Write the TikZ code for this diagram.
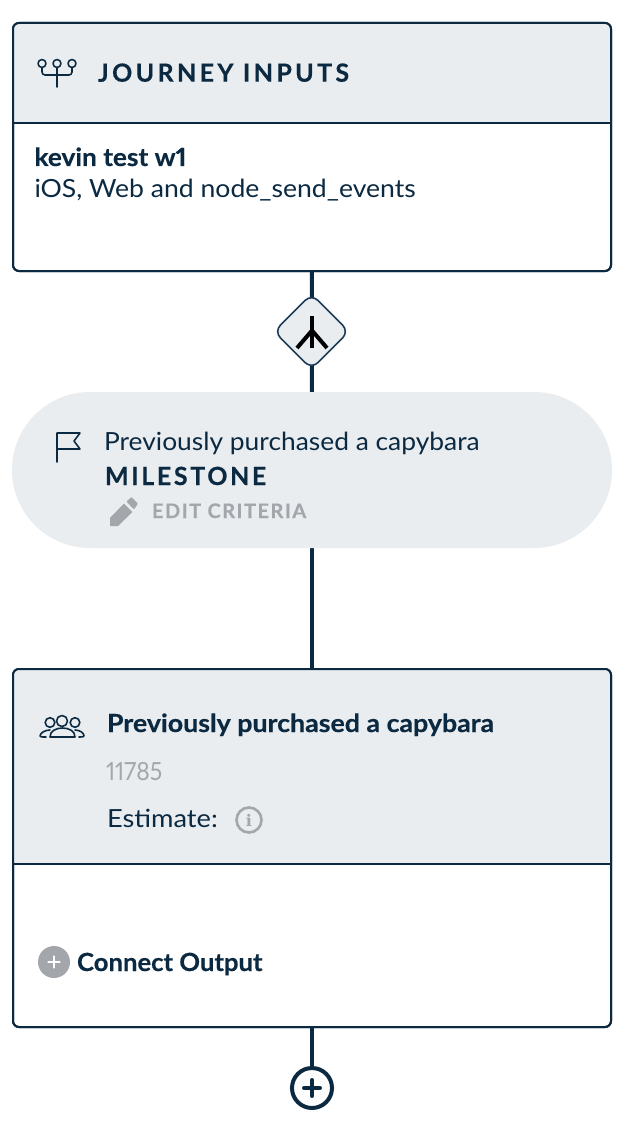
\documentclass[tikz,border=0pt]{standalone}
\usepackage{fontspec}
\setmainfont{Lato}[Numbers=Proportional]
\newfontfamily\infofont{DejaVu Serif}
\usetikzlibrary{shapes.geometric,backgrounds}
\definecolor{navy}{HTML}{0B2A42}
\definecolor{panel}{HTML}{EAEDF0}
\definecolor{mute}{HTML}{A3A7AB}
\definecolor{dline}{HTML}{1D3C5A}
\newcommand{\fs}[2]{\fontsize{#1}{#1}\addfontfeature{FakeStretch=#2}\selectfont}
\newcommand{\hv}{\bfseries\addfontfeature{FakeBold=0.4}}
\tikzset{
  x=1pt,y=-1pt,
  card/.style={draw=navy,line width=2pt,rounded corners=6pt,minimum width=598pt,inner sep=0pt,outer sep=0pt},
  txt/.style={anchor=base west,inner sep=0pt,outer sep=0pt,text=navy},
  conn/.style={draw=navy,line width=4pt},
  ico/.style={draw=navy,line width=1.6pt,line cap=round,line join=round},
}
\begin{document}
\begin{tikzpicture}
\useasboundingbox (0,0) rectangle (632,1142);

% shapes
\node[card,minimum height=248pt] (inputs) at (312,147) {};
\fill[panel,rounded corners=6pt] (13,23) -- (611,23) -- (611,123) -- (13,123) -- cycle;
\node[card,minimum height=248pt] at (312,147) {};
\coordinate (inL) at (13,123); \coordinate (inR) at (611,123);
\draw[navy,line width=2pt] (inL) -- (inR);

\node[fill=panel,rounded corners=78pt,minimum width=600pt,minimum height=156pt,inner sep=0pt,outer sep=0pt] (mile) at (312,470) {};

\node[card,minimum height=358pt] (seg) at (312,848) {};
\fill[panel,rounded corners=6pt] (13,669) -- (611,669) -- (611,864) -- (13,864) -- cycle;
\node[card,minimum height=358pt] at (312,848) {};
\coordinate (sgL) at (13,864); \coordinate (sgR) at (611,864);
\draw[navy,line width=2pt] (sgL) -- (sgR);

\node[draw=dline,line width=1.6pt,fill=panel,diamond,aspect=1,minimum size=75pt,inner sep=0pt,outer sep=0pt,rounded corners=9pt] (merge) at (311.5,331.5) {};
\node[circle,draw=navy,line width=4pt,fill=white,minimum size=40pt,inner sep=0pt,outer sep=0pt] (add) at (312,1088) {};

% connectors
\begin{pgfonlayer}{background}
\fill[white] (0,0) rectangle (632,1142);
\draw[conn] (inputs.south) -- (merge.center);
\draw[conn] (merge.center) -- (mile.north);
\draw[conn] (mile.south) -- (seg.north);
\draw[conn] (seg.south) -- (add.center);
\end{pgfonlayer}

% merge glyph
\draw[black,line width=4pt] (312,316) -- (312,348);
\draw[black,line width=4pt] (297,348) -- (312,330.5) -- (327,348);

% plus in circle
\draw[navy,line width=4pt,line cap=round] (312,1080) -- (312,1096) (304,1088) -- (320,1088);

% texts
\node[txt] (t1) at (98,81.7) {\fs{25}{1}\hv\addfontfeature{LetterSpace=13.4}JOURNEY INPUTS};
\node[txt] (t2) at (34.5,166) {\fs{25}{1.05}\hv kevin test w1};
\node[txt] (t3) at (34.5,197.5) {\fs{25}{1.063}iOS, Web and node\_send\_events};
\node[txt] (t4) at (104,450.5) {\fs{25}{1.055}Previously purchased a capybara};
\node[txt] (t5) at (105,485) {\fs{25}{1}\hv\addfontfeature{LetterSpace=10.5}MILESTONE};
\node[txt,text=mute] (t6) at (152,518) {\fs{20}{1}\hv\addfontfeature{LetterSpace=7.5}EDIT CRITERIA};
\node[txt] (t7) at (107,732) {\fs{25}{1.07}\hv Previously purchased a capybara};
\node[txt,text=mute] (t8) at (106,780) {\fs{25}{0.92}11785};
\node[txt] (t9) at (107,827) {\fs{25}{1.09}Estimate:};
\node[txt] (t10) at (77,971) {\fs{25}{1.027}\hv Connect Output};

% info icon
\node[circle,draw=mute,line width=2.6pt,minimum size=25pt,inner sep=0pt,text=mute] (info) at (249,820) {\fontsize{16}{16}\infofont\bfseries i};

% connect-output plus
\node[circle,fill=mute,minimum size=32pt,inner sep=0pt] (cplus) at (54,962) {};
\draw[white,line width=2.6pt,line cap=round] (54,956.5) -- (54,967.5) (48.5,962) -- (59.5,962);

% inputs icon
\draw[ico] (42,63.5) circle (4) (57,63.5) circle (4) (72,63.5) circle (4);
\draw[ico,rounded corners=3pt] (42,67.5) -- (42,75) -- (72,75) -- (72,67.5);
\draw[ico] (57,67.5) -- (57,87);

% flag icon
\draw[ico] (57,462) -- (57,433) -- (80,433) -- (74,441) -- (80,449) -- (57,449);

% pencil
\fill[mute] (110,526) -- (110,518) -- (124,503.5) -- (132.5,512) -- (118,526) -- cycle;
\fill[mute,rounded corners=1pt] (126.5,501.5) -- (131.5,497) -- (138,503.5) -- (134,509.5) -- cycle;

% people icon
\draw[ico] (62,721) circle (5.5) (50,722.5) circle (4.8) (75,722.5) circle (4.8);
\draw[ico] (50,737) .. controls (50,731) and (56,728) .. (62.5,728) .. controls (69,728) and (75,731) .. (75,737) -- cycle;
\draw[ico] (50,730) .. controls (45,730) and (40,733) .. (40,736) .. controls (40,737) and (42,737) .. (46,737);
\draw[ico] (75,730) .. controls (80,730) and (84,733) .. (84,736) .. controls (84,737) and (82,737) .. (79,737);
\end{tikzpicture}
\end{document}
